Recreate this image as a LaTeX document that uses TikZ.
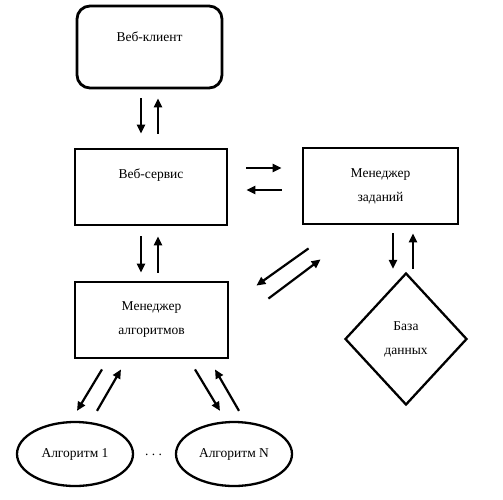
\documentclass[tikz,border=0pt]{standalone}
\usepackage{fontspec}
\setmainfont{Liberation Serif}
\usetikzlibrary{arrows.meta,shapes.geometric,calc}
\begin{document}
\begin{tikzpicture}[x=1pt,y=-1pt,
  every node/.style={font=\fontsize{13.5}{24}\selectfont},
  box/.style={draw, line width=2.8pt, inner sep=0pt, align=center},
  shp/.style={draw, line width=2.3pt, inner sep=0pt, align=center},
  arr/.style={line width=2.2pt, -{Triangle[length=9pt,width=8pt]}}]
\useasboundingbox (0,0) rectangle (503,499);
\fill[white] (0,0) rectangle (503,499);
% boxes
\node[box, rounded corners=13pt, minimum width=145pt, minimum height=82pt,
      label={[name=clientt,yshift=10pt]center:Веб-клиент}] (client) at (149.5,47) {};
\node[box, minimum width=152pt, minimum height=76pt,
      label={[name=servicet,yshift=12pt]center:Веб-сервис}] (service) at (151,187) {};
\node[box, minimum width=155pt, minimum height=76pt] (jobs) at (380.5,186) {Менеджер\\заданий};
\node[box, minimum width=153pt, minimum height=76pt] (algmgr) at (151.5,320) {Менеджер\\алгоритмов};
\node[shp, diamond, aspect=0.924, minimum width=122pt, minimum height=132pt] (db) at (406,339) {База\\данных};
\node[shp, ellipse, minimum width=116pt, minimum height=64pt] (alg1) at (75,454) {Алгоритм 1};
\node[shp, ellipse, minimum width=116pt, minimum height=64pt] (algN) at (234,454) {Алгоритм N};
\node (dots) at (153.5,455) {.\ .\ .};
% arrows
\draw[arr] ($(client.south)+(-8.5,9)$) -- ($(service.north)+(-10,-14)$);
\draw[arr] ($(service.north)+(7,-14)$) -- ($(client.south)+(8.5,9)$);
\draw[arr] ($(service.east)+(18,-19)$) -- ($(jobs.west)+(-20,-18)$);
\draw[arr] ($(jobs.west)+(-20,4)$) -- ($(service.east)+(18,3)$);
\draw[arr] ($(service.south)+(-10,10)$) -- ($(algmgr.north)+(-10.5,-8)$);
\draw[arr] ($(algmgr.north)+(6.5,-8)$) -- ($(service.south)+(7,10)$);
\draw[arr] ($(jobs.south)+(12.5,8)$) -- ($(db.north)+(-13,-3)$);
\draw[arr] ($(db.north)+(7,-3)$) -- ($(jobs.south)+(32.5,8)$);
\draw[arr] ($(jobs.south west)+(7,23)$) -- ($(algmgr.north east)+(27,5)$);
\draw[arr] ($(algmgr.north east)+(39,18)$) -- ($(jobs.south west)+(19,34)$);
\draw[arr] ($(algmgr.south)+(-49.5,10)$) -- ($(alg1.north)+(2,-10)$);
\draw[arr] ($(alg1.north)+(22,-10)$) -- ($(algmgr.south)+(-30.5,10)$);
\draw[arr] ($(algmgr.south)+(43.5,10)$) -- ($(algN.north)+(-14,-10)$);
\draw[arr] ($(algN.north)+(5,-10)$) -- ($(algmgr.south)+(63.5,10)$);
\end{tikzpicture}
\end{document}
